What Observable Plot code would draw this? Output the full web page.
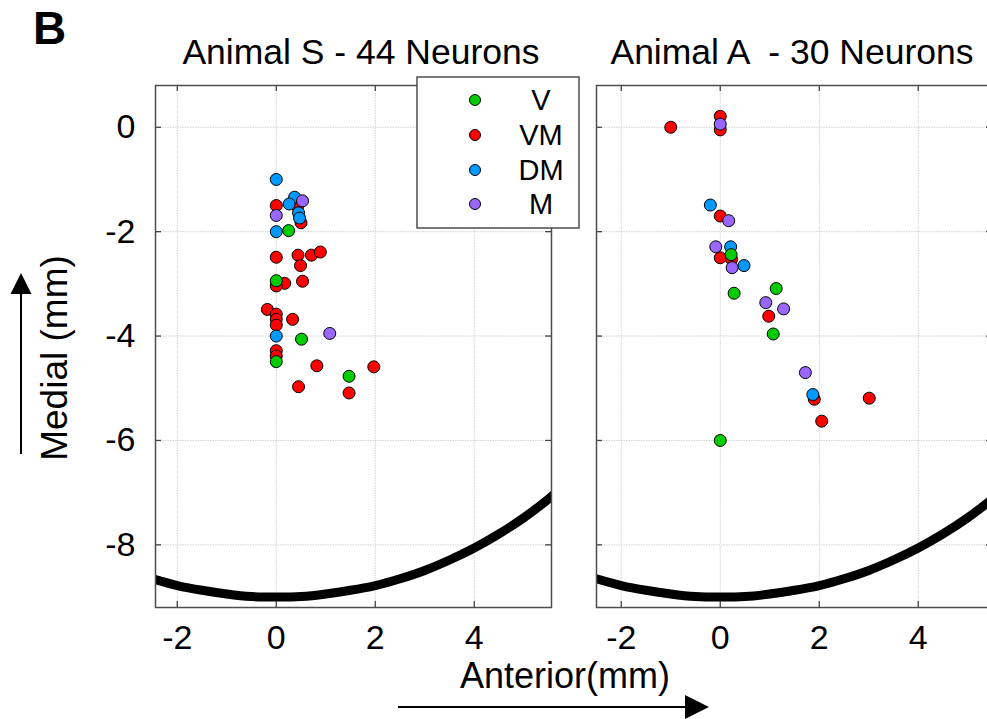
<!DOCTYPE html>
<html><head><meta charset="utf-8">
<script src="https://cdn.jsdelivr.net/npm/d3@7"></script>
<script src="https://cdn.jsdelivr.net/npm/@observablehq/plot@0.6"></script>
<style>
html,body{margin:0;padding:0;background:#fff;overflow:hidden;}
#root{position:relative;width:987px;height:719px;overflow:hidden;background:#fff;}
#root svg{position:absolute;}
</style></head><body><div id="root"></div>
<script>
// ---- categories / legend ----
const groups = ["V", "VM", "DM", "M"];
const groupColors = ["#00cc00", "#ff0000", "#0099ff", "#9966ff"];
const drawOrder = ["VM", "DM", "V", "M"];

// ---- ticks ----
const xTicks = [-2, 0, 2, 4];
const yTicks = [0, -2, -4, -6, -8];

// ---- Animal S (44 neurons) ----
const sX = [0, 0.43, 0.5, 0, 0.44, 0.71, 0.89, 0.49, 0.17, 0, 0.53, -0.18, 0, 0, 0, 0.33, 0, 0, 0.82, 1.97, 0.45, 1.47,
            0, 0.37, 0.26, 0.45, 0.47, 0, 0,
            0.25, 0, 0.51, 0, 1.47,
            0.53, 0, 1.08];
const sY = [-1.5, -1.52, -1.83, -2.49, -2.45, -2.45, -2.39, -2.65, -2.99, -3.04, -2.95, -3.49, -3.58, -3.68, -3.79, -3.68, -4.28, -4.38, -4.57, -4.59, -4.97, -5.09,
            -1.0, -1.34, -1.47, -1.64, -1.74, -2.0, -4.0,
            -1.98, -2.94, -4.06, -4.49, -4.77,
            -1.41, -1.69, -3.95];
const sG = ["VM","VM","VM","VM","VM","VM","VM","VM","VM","VM","VM","VM","VM","VM","VM","VM","VM","VM","VM","VM","VM","VM",
            "DM","DM","DM","DM","DM","DM","DM",
            "V","V","V","V","V",
            "M","M","M"];

// ---- Animal A (30 neurons) ----
const aX = [0, 0, -1.0, 0, 0, 0.23, 0.98, 1.9, 3.01, 2.05,
            -0.2, 0.21, 0.48, 1.87,
            0.22, 0.28, 1.13, 1.07, 0,
            0, 0.17, -0.09, 0.24, 0.92, 1.28, 1.72];
const aY = [0.21, -0.05, 0, -1.70, -2.50, -2.53, -3.62, -5.21, -5.19, -5.63,
            -1.49, -2.29, -2.65, -5.12,
            -2.44, -3.18, -3.09, -3.96, -6.0,
            0.06, -1.79, -2.29, -2.69, -3.36, -3.48, -4.70];
const aG = ["VM","VM","VM","VM","VM","VM","VM","VM","VM","VM",
            "DM","DM","DM","DM",
            "V","V","V","V","V",
            "M","M","M","M","M","M","M"];

// ---- cortical boundary arc ----
const arcX = [-2.5, -2, -1.5, -1, -0.5, 0, 0.5, 1, 1.5, 2, 2.5, 3, 3.5, 4, 4.5, 5, 5.5, 6];
const arcY = [-8.65, -8.78, -8.87, -8.94, -8.99, -9.0, -8.99, -8.94, -8.87, -8.78, -8.65, -8.49, -8.29, -8.06, -7.79, -7.48, -7.12, -6.71];

const FONT = "'Liberation Sans', Arial, Helvetica, sans-serif";
const root = document.getElementById("root");

function rowsOf(X, Y, G) {
  const r = X.map((x, i) => ({x, y: Y[i], g: G[i]}));
  return r.sort((a, b) => drawOrder.indexOf(a.g) - drawOrder.indexOf(b.g));
}
const arc = arcX.map((x, i) => ({x, y: arcY[i]}));

function panel({rows, xDomain, width, marginLeft, marginRight, showY}) {
  const height = 660, mt = 85, mb = 53;
  const fw = width - marginLeft - marginRight, fh = height - mt - mb;
  const tl = 6;
  return Plot.plot({
    width, height, marginTop: mt, marginBottom: mb, marginLeft, marginRight,
    style: {fontFamily: FONT, fontSize: "34px", color: "#000", background: "transparent", overflow: "visible"},
    x: {domain: xDomain, ticks: xTicks, tickSize: 0, tickPadding: 17, tickFormat: d => String(d), label: null},
    y: {domain: [-9.2, 0.8], ticks: yTicks, tickSize: 0, tickPadding: 20, tickFormat: d => String(d), label: null, axis: showY ? "left" : null},
    color: {domain: groups, range: groupColors},
    marks: [
      Plot.ruleX(xTicks, {stroke: "#d2d2d2", strokeWidth: 1, strokeDasharray: "1.5,1"}),
      Plot.ruleY(yTicks, {stroke: "#d2d2d2", strokeWidth: 1, strokeDasharray: "1.5,1"}),
      Plot.line(arc, {x: "x", y: "y", stroke: "black", strokeWidth: 9, curve: "natural", clip: true}),
      Plot.tickX(xTicks, {x: d => d, insetBottom: fh - tl, stroke: "#444", strokeWidth: 1.3}),
      Plot.tickX(xTicks, {x: d => d, insetTop: fh - tl, stroke: "#444", strokeWidth: 1.3}),
      Plot.tickY(yTicks, {y: d => d, insetRight: fw - tl, stroke: "#444", strokeWidth: 1.3}),
      Plot.tickY(yTicks, {y: d => d, insetLeft: fw - tl, stroke: "#444", strokeWidth: 1.3}),
      Plot.dot(rows, {x: "x", y: "y", fill: "g", stroke: "black", strokeWidth: 1, r: 6}),
      Plot.frame({stroke: "#4d4d4d", strokeWidth: 1.5})
    ]
  });
}

const left = panel({rows: rowsOf(sX, sY, sG), xDomain: [-2.44, 5.56], width: 570, marginLeft: 155, marginRight: 19, showY: true});
left.style.left = "0px"; left.style.top = "0px";
root.appendChild(left);

const right = panel({rows: rowsOf(aX, aY, aG), xDomain: [-2.5, 5.5], width: 440, marginLeft: 26, marginRight: 18, showY: false});
right.style.left = "570px"; right.style.top = "0px";
root.appendChild(right);

// ---- overlay: titles, axis labels, arrows, legend ----
const ov = d3.select(root).append("svg")
  .attr("width", 987).attr("height", 719)
  .style("left", "0px").style("top", "0px")
  .style("font-family", FONT);

ov.append("text").attr("x", 33).attr("y", 44).attr("font-size", 46).attr("font-weight", "bold").text("B");
ov.append("text").attr("x", 361).attr("y", 64).attr("font-size", 35.5).attr("text-anchor", "middle").text("Animal S - 44 Neurons");
ov.append("text").attr("x", 792).attr("y", 64).attr("font-size", 35.5).attr("text-anchor", "middle").style("white-space", "pre").text("Animal A  - 30 Neurons");
ov.append("text").attr("transform", "translate(67,358) rotate(-90)").attr("font-size", 37).attr("text-anchor", "middle").text("Medial (mm)");
ov.append("text").attr("x", 565).attr("y", 688).attr("font-size", 36).attr("text-anchor", "middle").text("Anterior(mm)");

// arrows
ov.append("line").attr("x1", 21).attr("x2", 21).attr("y1", 454).attr("y2", 290).attr("stroke", "#000").attr("stroke-width", 2);
ov.append("path").attr("d", "M21,273 L10.5,294 L31.5,294 Z").attr("fill", "#000");
ov.append("line").attr("x1", 398).attr("x2", 688).attr("y1", 707).attr("y2", 707).attr("stroke", "#000").attr("stroke-width", 2);
ov.append("path").attr("d", "M709,707 L685,695 L685,719 Z").attr("fill", "#000");

// legend
const lg = ov.append("g");
lg.append("rect").attr("x", 417).attr("y", 77).attr("width", 162).attr("height", 151)
  .attr("fill", "#fff").attr("stroke", "#4d4d4d").attr("stroke-width", 1.5);
const legendY = [100, 135, 170, 204];
groups.forEach((g, i) => {
  lg.append("circle").attr("cx", 475).attr("cy", legendY[i]).attr("r", 5.5)
    .attr("fill", groupColors[i]).attr("stroke", "#000").attr("stroke-width", 1);
  lg.append("text").attr("x", 541).attr("y", legendY[i] + 10).attr("font-size", 29)
    .attr("text-anchor", "middle").text(g);
});
</script>
</body></html>
